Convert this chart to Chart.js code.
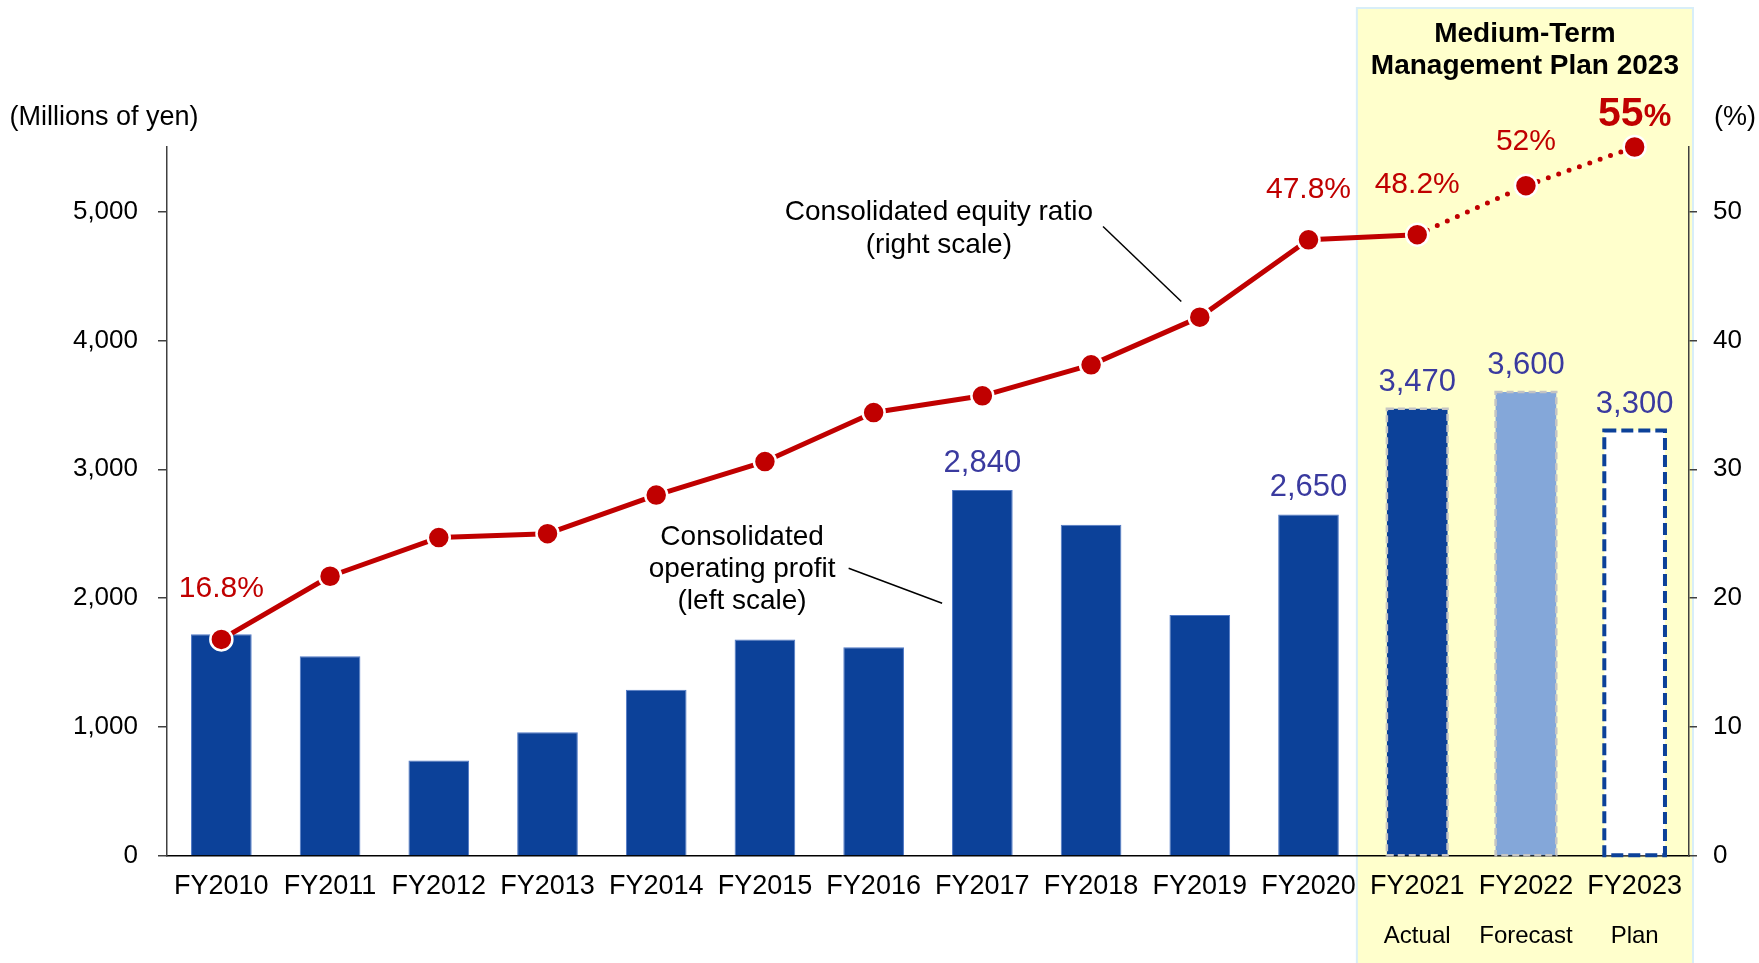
<!DOCTYPE html>
<html>
<head>
<meta charset="utf-8">
<title>Consolidated operating profit and equity ratio</title>
<script src="https://cdn.jsdelivr.net/npm/chart.js@4.4.1/dist/chart.umd.min.js"></script>
<style>
  html, body { margin: 0; padding: 0; background: #ffffff; }
  canvas { display: block; }
</style>
</head>
<body>
<canvas id="chart" width="1759" height="963"></canvas>
<script>
// ---- Data -------------------------------------------------------------
const categories = ['FY2010', 'FY2011', 'FY2012', 'FY2013', 'FY2014', 'FY2015', 'FY2016',
                    'FY2017', 'FY2018', 'FY2019', 'FY2020', 'FY2021', 'FY2022', 'FY2023'];
const stageLabels = ['', '', '', '', '', '', '', '', '', '', '', 'Actual', 'Forecast', 'Plan'];

// Consolidated operating profit, millions of yen (left scale)
const operatingProfit = [1720, 1550, 740, 960, 1290, 1680, 1620, 2840, 2570, 1870, 2650, 3470, 3600, 3300];
// Consolidated equity ratio, % (right scale)
const equityRatio = [16.8, 21.7, 24.7, 25.0, 28.0, 30.6, 34.4, 35.7, 38.1, 41.8, 47.8, 48.2, 52, 55];

// Which points carry a value label
const profitLabelShown = [false, false, false, false, false, false, false, true, false, false, true, true, true, true];
const ratioLabelShown  = [true, false, false, false, false, false, false, false, false, false, true, true, true, true];

const leftTicks  = [0, 1000, 2000, 3000, 4000, 5000];
const rightTicks = [0, 10, 20, 30, 40, 50];

const planTitle = ['Medium-Term', 'Management Plan 2023'];
const leftUnit  = '(Millions of yen)';
const rightUnit = '(%)';

// First category belonging to the medium-term plan period
const planStart = 11;
const FORECAST = 12;
const PLAN = 13;

// ---- Styling ----------------------------------------------------------
const FAMILY = "'Liberation Sans', Arial, Helvetica, sans-serif";
const fontStr = (size, weight) => `${weight || 'normal'} ${size}px ${FAMILY}`;
const NAVY = '#0C4199';
const LIGHT_BLUE = '#84A7D9';
const RED = '#C00000';
const VALUE_BLUE = '#3A3A9F';

const barFill = operatingProfit.map((v, i) =>
  i === PLAN ? '#FFFFFF' : i === FORECAST ? LIGHT_BLUE : NAVY);
const barEdge = operatingProfit.map((v, i) => i < planStart ? '#5079C6' : 'rgba(0,0,0,0)');
const barEdgeWidth = operatingProfit.map((v, i) => i < planStart ? 1 : 0);

// Label placement for the ratio labels (distance of baseline above marker centre)
const ratioLabelStyle = { size: 30, pctSize: 30, weight: 'normal', lift: 42 };
const ratioLabelOverrides = {
  [FORECAST]: { lift: 36 },
  [PLAN]: { size: 41, pctSize: 31, weight: 'bold', lift: 21 }
};

// Callout notes, anchored in category index / left-scale units
const notes = [
  { lines: ['Consolidated equity ratio', '(right scale)'], at: [6.6, 4935], gap: 33,
    leader: [[8.11, 4883], [8.83, 4301]] },
  { lines: ['Consolidated', 'operating profit', '(left scale)'], at: [4.79, 2413], gap: 32,
    leader: [[5.77, 2232], [6.63, 1961]] }
];

const fmt = v => v.toLocaleString('en-US');

// ---- Overlay plugin: plan period panel, outlines, labels, notes --------
const overlay = {
  id: 'overlay',
  planBounds(chart) {
    const x = chart.scales.x;
    const left = (x.getPixelForValue(planStart - 1) + x.getPixelForValue(planStart)) / 2 - 6;
    const right = chart.chartArea.right + 4;
    return { left, right };
  },
  beforeDraw(chart) {
    const ctx = chart.ctx;
    const { left, right } = this.planBounds(chart);
    ctx.save();
    ctx.fillStyle = '#FFFFCC';
    ctx.fillRect(left, 8, right - left, chart.height);
    ctx.strokeStyle = '#D8EEF8';
    ctx.lineWidth = 2;
    ctx.strokeRect(left, 8, right - left, chart.height);
    ctx.restore();
  },
  afterDatasetDraw(chart, args) {
    if (args.index !== 0) return;
    const ctx = chart.ctx;
    const bars = chart.getDatasetMeta(0).data;
    ctx.save();
    bars.forEach((bar, i) => {
      if (i < planStart) return;
      const p = bar.getProps(['x', 'y', 'base', 'width'], true);
      const l = p.x - p.width / 2;
      if (i === PLAN) {
        ctx.strokeStyle = NAVY;
        ctx.lineWidth = 4;
        ctx.setLineDash([12, 5]);
      } else {
        ctx.strokeStyle = '#C4C4C4';
        ctx.lineWidth = 2.5;
        ctx.setLineDash([7, 4]);
      }
      ctx.strokeRect(l, p.y, p.width, p.base - p.y);
    });
    ctx.restore();
  },
  afterDraw(chart) {
    const ctx = chart.ctx;
    const xs = chart.scales.x, ys = chart.scales.y;
    ctx.save();

    // Panel title
    const { left, right } = this.planBounds(chart);
    const cx = (left + right) / 2;
    ctx.fillStyle = '#000';
    ctx.textAlign = 'center';
    ctx.textBaseline = 'alphabetic';
    ctx.font = fontStr(28, 'bold');
    ctx.fillText(planTitle[0], cx, 42);
    ctx.fillText(planTitle[1], cx, 74);

    // Axis units
    ctx.font = fontStr(27);
    ctx.fillText(leftUnit, 104, 125);
    ctx.fillText(rightUnit, 1735, 125);

    // Sub labels under the plan categories
    ctx.font = fontStr(24);
    stageLabels.forEach((s, i) => {
      if (s) ctx.fillText(s, xs.getPixelForValue(i), 943);
    });

    // Operating profit values
    const bars = chart.getDatasetMeta(0).data;
    ctx.font = fontStr(31);
    ctx.fillStyle = VALUE_BLUE;
    bars.forEach((bar, i) => {
      if (!profitLabelShown[i]) return;
      ctx.fillText(fmt(operatingProfit[i]), bar.x, bar.y - 18);
    });

    // Equity ratio values
    const pts = chart.getDatasetMeta(1).data;
    ctx.fillStyle = RED;
    pts.forEach((pt, i) => {
      if (!ratioLabelShown[i]) return;
      const st = Object.assign({}, ratioLabelStyle, ratioLabelOverrides[i] || {});
      const num = String(equityRatio[i]);
      ctx.font = fontStr(st.size, st.weight);
      const wNum = ctx.measureText(num).width;
      ctx.font = fontStr(st.pctSize, st.weight);
      const wPct = ctx.measureText('%').width;
      const x0 = pt.x - (wNum + wPct) / 2;
      const yb = pt.y - st.lift;
      ctx.textAlign = 'left';
      ctx.font = fontStr(st.size, st.weight);
      ctx.fillText(num, x0, yb);
      ctx.font = fontStr(st.pctSize, st.weight);
      ctx.fillText('%', x0 + wNum, yb);
    });

    // Callout notes with leader lines
    ctx.fillStyle = '#000';
    ctx.textAlign = 'center';
    ctx.font = fontStr(28);
    ctx.strokeStyle = '#000';
    ctx.lineWidth = 1.5;
    notes.forEach(n => {
      const nx = xs.getPixelForValue(n.at[0]);
      const ny = ys.getPixelForValue(n.at[1]);
      n.lines.forEach((t, k) => ctx.fillText(t, nx, ny + k * n.gap));
      ctx.beginPath();
      ctx.moveTo(xs.getPixelForValue(n.leader[0][0]), ys.getPixelForValue(n.leader[0][1]));
      ctx.lineTo(xs.getPixelForValue(n.leader[1][0]), ys.getPixelForValue(n.leader[1][1]));
      ctx.stroke();
    });

    ctx.restore();
  }
};

// ---- Chart ------------------------------------------------------------
const tickFont = { family: FAMILY, size: 26 };
const catFont = { family: FAMILY, size: 27 };

new Chart(document.getElementById('chart'), {
  data: {
    labels: categories,
    datasets: [
      {
        type: 'bar',
        label: 'Consolidated operating profit',
        data: operatingProfit,
        yAxisID: 'y',
        backgroundColor: barFill,
        borderColor: barEdge,
        borderWidth: barEdgeWidth,
        barPercentage: 0.558,
        categoryPercentage: 1,
        order: 1
      },
      {
        type: 'line',
        label: 'Consolidated equity ratio',
        data: equityRatio,
        yAxisID: 'y1',
        borderColor: RED,
        borderWidth: 5,
        borderCapStyle: 'round',
        borderJoinStyle: 'round',
        pointRadius: 11,
        pointHoverRadius: 11,
        pointBackgroundColor: RED,
        pointBorderColor: '#FFFFFF',
        pointBorderWidth: 2.5,
        tension: 0,
        clip: false,
        order: 0,
        segment: {
          borderDash: c => c.p0DataIndex >= planStart ? [0, 11] : undefined
        }
      }
    ]
  },
  options: {
    responsive: false,
    devicePixelRatio: 1,
    animation: false,
    layout: { padding: { top: 147, left: 0, right: 0, bottom: 0 } },
    plugins: {
      legend: { display: false },
      tooltip: { enabled: false }
    },
    scales: {
      x: {
        type: 'category',
        offset: true,
        grid: { display: false, drawTicks: false },
        border: { display: true, color: '#000000', width: 1.5 },
        ticks: { color: '#000000', font: catFont, padding: 14, autoSkip: false, maxRotation: 0 },
        afterFit: s => { s.height = 107; }
      },
      y: {
        position: 'left',
        min: 0,
        max: 5500,
        grid: { drawOnChartArea: false, tickLength: 9, color: '#404040', lineWidth: 1.5 },
        border: { color: '#404040', width: 1.5 },
        ticks: { color: '#000000', font: tickFont, padding: 20, callback: v => fmt(v) },
        afterBuildTicks: s => { s.ticks = leftTicks.map(v => ({ value: v })); },
        afterFit: s => { s.width = 167; }
      },
      y1: {
        position: 'right',
        min: 0,
        max: 55,
        grid: { drawOnChartArea: false, tickLength: 8, color: '#404040', lineWidth: 1.5 },
        border: { color: '#404040', width: 1.5 },
        ticks: { color: '#000000', font: tickFont, padding: 16, callback: v => String(v) },
        afterBuildTicks: s => { s.ticks = rightTicks.map(v => ({ value: v })); },
        afterFit: s => { s.width = 70; }
      }
    }
  },
  plugins: [overlay]
});
</script>
</body>
</html>
